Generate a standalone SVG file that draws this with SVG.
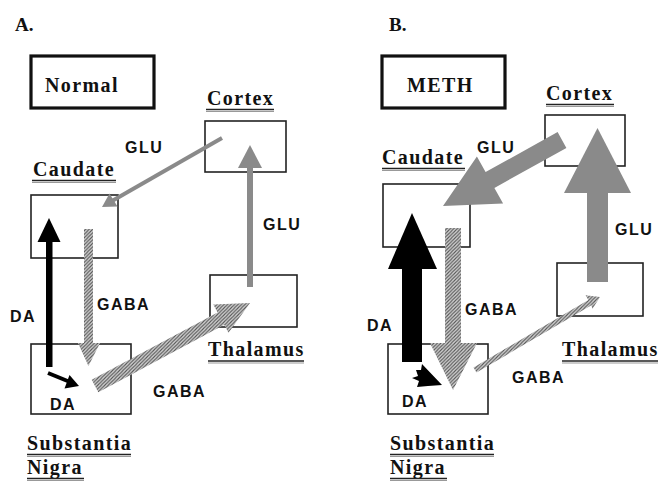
<svg xmlns="http://www.w3.org/2000/svg" width="659" height="483" viewBox="0 0 659 483">
<defs>
<pattern id="hatch" patternUnits="userSpaceOnUse" width="3.5" height="3.5">
<rect width="3.5" height="3.5" fill="#d8d8d8"/>
<path d="M-1,1 L1,-1 M0,3.5 L3.5,0 M2.5,4.5 L4.5,2.5" stroke="#555" stroke-width="1.1"/>
</pattern>
<style>
.box{fill:none;stroke:#222;stroke-width:1.6}
.tbox{fill:none;stroke:#111;stroke-width:3.2}
.ser{font-family:"Liberation Serif","Times New Roman",serif;font-weight:bold;font-size:20px;letter-spacing:1.4px;fill:#111}
.hd{font-family:"Liberation Serif","Times New Roman",serif;font-weight:bold;font-size:19px;fill:#111}
.cm{font-family:"Liberation Sans",Arial,sans-serif;font-weight:bold;font-size:16px;letter-spacing:1.5px;fill:#111}
.ul{stroke:#222;stroke-width:1.6}
.ul2{stroke:#999;stroke-width:1.2}
.gray{fill:#8a8a8a}
.hat{fill:url(#hatch)}
.blk{fill:#000}
</style>
</defs>

<!-- Panel A -->
<text class="hd" x="15" y="31">A.</text>
<g id="normal">
<rect class="tbox" x="31" y="56" width="123" height="52"/>
<text class="ser" x="45" y="92">Normal</text>
</g>
<g id="cortexA">
<rect class="box" x="205" y="121" width="81" height="51"/>
<text class="ser" x="207" y="105">Cortex</text>
<line class="ul" x1="206" y1="109.5" x2="274" y2="109.5"/><line class="ul2" x1="206" y1="111.5" x2="274" y2="111.5"/>
</g>
<g id="caudateA">
<rect class="box" x="31" y="195" width="87" height="63"/>
<text class="ser" x="33" y="176">Caudate</text>
<line class="ul" x1="32" y1="180.5" x2="116" y2="180.5"/><line class="ul2" x1="32" y1="182.5" x2="116" y2="182.5"/>
</g>
<g id="thalamusA">
<rect class="box" x="210" y="275" width="87" height="52"/>
<text class="ser" x="208" y="356">Thalamus</text>
<line class="ul" x1="208" y1="361" x2="304" y2="361"/><line class="ul2" x1="208" y1="363" x2="304" y2="363"/>
</g>
<g id="snA">
<rect class="box" x="31" y="344" width="100" height="70"/>
<text class="cm" x="50" y="410">DA</text>
<text class="ser" x="27" y="450">Substantia</text>
<line class="ul" x1="27" y1="454.5" x2="131" y2="454.5"/><line class="ul2" x1="27" y1="456.5" x2="131" y2="456.5"/>
<text class="ser" x="27" y="474">Nigra</text>
<line class="ul" x1="27" y1="478.5" x2="84" y2="478.5"/><line class="ul2" x1="27" y1="480.5" x2="84" y2="480.5"/>
</g>
<g id="connectorsA">
<line x1="222" y1="138" x2="112" y2="201" stroke="#8a8a8a" stroke-width="4"/>
<polygon class="gray" points="102,207 109.5,193.5 117.5,206.5"/>
<rect class="gray" x="247" y="165" width="6" height="122"/>
<polygon class="gray" points="250,145 262,168 238,168"/>
<rect class="blk" x="46" y="240" width="6.5" height="127"/>
<polygon class="blk" points="49,218 60.5,242 37.5,242"/>
<rect class="hat" x="84" y="229" width="9" height="116"/>
<polygon class="hat" points="78,343 100,343 88.5,366"/>
<polygon class="hat" points="91.7,379.8 217.6,312.4 213.3,304.5 250,303 228.5,332.7 224.2,324.8 98.3,392.2"/>
<line x1="48" y1="373" x2="70" y2="382" stroke="#000" stroke-width="4"/>
<polygon class="blk" points="79,386 64.5,388.5 69.5,375"/>
<text class="cm" x="125" y="153">GLU</text>
<text class="cm" x="263" y="230">GLU</text>
<text class="cm" x="10" y="322">DA</text>
<text class="cm" x="97" y="310">GABA</text>
<text class="cm" x="153" y="397">GABA</text>
</g>

<!-- Panel B -->
<text class="hd" x="389" y="31">B.</text>
<g id="meth">
<rect class="tbox" x="382" y="56" width="123" height="52"/>
<text class="ser" x="407" y="92">METH</text>
</g>
<g id="cortexB">
<rect class="box" x="545" y="115" width="80" height="51"/>
<text class="ser" x="546" y="100">Cortex</text>
<line class="ul" x1="546" y1="104.5" x2="614" y2="104.5"/><line class="ul2" x1="546" y1="106.5" x2="614" y2="106.5"/>
</g>
<g id="caudateB">
<rect class="box" x="383" y="184" width="87" height="63"/>
<text class="ser" x="382" y="164">Caudate</text>
<line class="ul" x1="382" y1="168.5" x2="465" y2="168.5"/><line class="ul2" x1="382" y1="170.5" x2="465" y2="170.5"/>
</g>
<g id="thalamusB">
<rect class="box" x="557" y="263" width="86" height="53"/>
<text class="ser" x="562" y="356">Thalamus</text>
<line class="ul" x1="562" y1="361" x2="658" y2="361"/><line class="ul2" x1="562" y1="363" x2="658" y2="363"/>
</g>
<g id="snB">
<rect class="box" x="388" y="344" width="100" height="70"/>
<text class="cm" x="402" y="407">DA</text>
<text class="ser" x="390" y="450">Substantia</text>
<line class="ul" x1="390" y1="454.5" x2="494" y2="454.5"/><line class="ul2" x1="390" y1="456.5" x2="494" y2="456.5"/>
<text class="ser" x="390" y="474">Nigra</text>
<line class="ul" x1="390" y1="478.5" x2="447" y2="478.5"/><line class="ul2" x1="390" y1="480.5" x2="447" y2="480.5"/>
</g>
<g id="connectorsB">
<polygon class="gray" points="557.6,132.1 566.4,147.9 494.4,187.9 503.1,203.6 443,206 476.9,156.4 485.6,172.1"/>
<rect class="gray" x="587" y="190" width="21" height="92"/>
<polygon class="gray" points="597.5,128 631,193 564,193"/>
<rect class="blk" x="402" y="266" width="20" height="96"/>
<polygon class="blk" points="412,213 437,269 388,269"/>
<rect class="hat" x="445" y="228" width="16" height="117"/>
<polygon class="hat" points="430,343 477,343 453,390"/>
<polygon class="hat" points="473.5,367.4 588.4,300.1 585.5,295.3 600,297 592.4,309.1 591.4,305.2 476.5,372.6"/>
<polygon class="blk" points="412,378 418,376 416,370 421,370 422,364 442,385 428,386 417,387 419,381"/>
<text class="cm" x="477" y="153">GLU</text>
<text class="cm" x="615" y="235">GLU</text>
<text class="cm" x="367" y="331">DA</text>
<text class="cm" x="465" y="315">GABA</text>
<text class="cm" x="512" y="383">GABA</text>
</g>
</svg>
